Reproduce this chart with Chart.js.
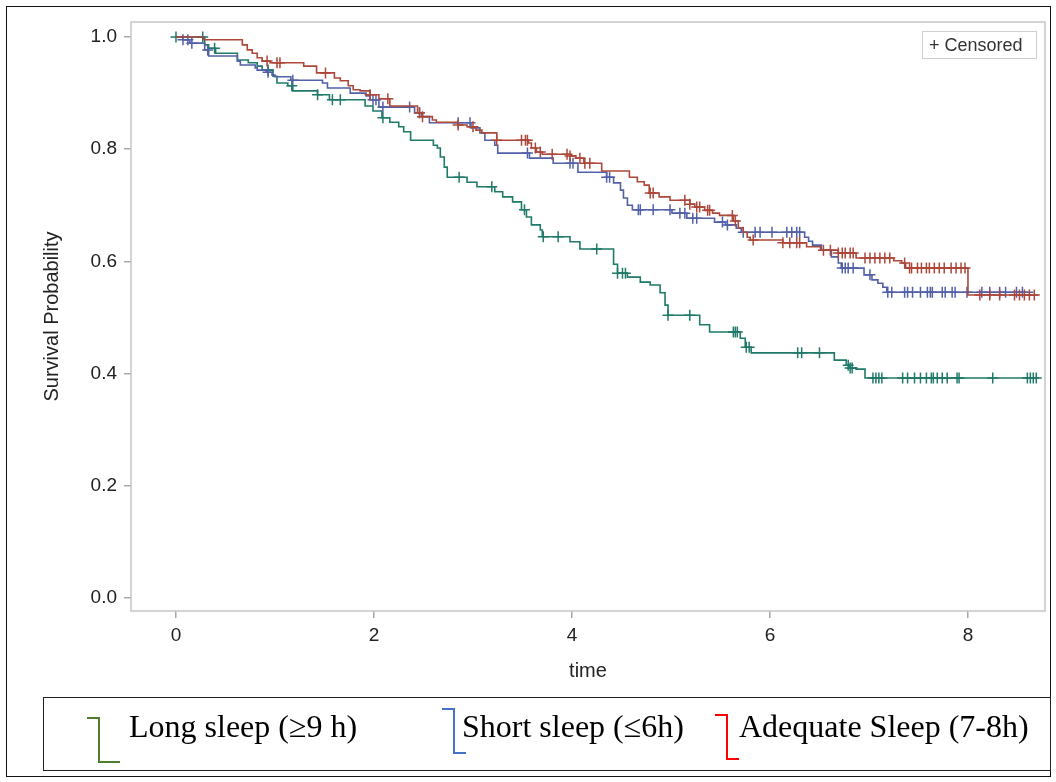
<!DOCTYPE html>
<html>
<head>
<meta charset="utf-8">
<script src="https://cdn.jsdelivr.net/npm/chart.js@4.4.0/dist/chart.umd.min.js"></script>
<style>
  body { margin: 0; background: #fff; width: 1056px; height: 782px; position: relative; overflow: hidden; }
  #frame { position: absolute; left: 6px; top: 6px; width: 1045px; height: 771px; border: 1.5px solid #111; box-sizing: border-box; }
  #wrap { position: absolute; left: 0; top: 0; width: 1056px; height: 700px; }
  #censorKey { position: absolute; left: 922px; top: 31px; width: 115px; height: 28px; box-sizing: border-box;
    border: 1px solid #cfcfcf; font: 18px "Liberation Sans", Arial, sans-serif; color: #333; line-height: 26px; padding-left: 6px; white-space: nowrap; }
  #legend { position: absolute; left: 43px; top: 697px; width: 1008px; height: 74px; box-sizing: border-box; border: 1.5px solid #222; }
  .item { position: absolute; top: 12px; font: 32px "Liberation Serif", "Times New Roman", serif; color: #000; line-height: 32px; white-space: nowrap; }
  .ic { position: absolute; }
</style>
</head>
<body>
<div id="frame"></div>
<div id="wrap"><canvas id="km" width="1056" height="700"></canvas></div>
<div id="censorKey">+ Censored</div>
<div id="legend"></div>
<script>
// Long sleep (>=9 h)
const longTime = [0, 0.29, 0.33, 0.40, 0.62, 0.73, 0.82, 0.87, 0.98, 1.02, 1.13, 1.18, 1.43, 1.55, 1.91,
  1.99, 2.08, 2.16, 2.25, 2.30, 2.37, 2.60, 2.64, 2.67, 2.71, 2.74, 2.94, 3.04, 3.22, 3.30,
  3.40, 3.49, 3.54, 3.59, 3.68, 3.70, 3.98, 4.08, 4.42, 4.46, 4.56, 4.69, 4.79, 4.89, 4.94,
  4.97, 5.29, 5.39, 5.70, 5.75, 5.81, 6.65, 6.77, 6.80, 6.87, 6.96, 8.70];
const longSurv = [1, 0.986, 0.980, 0.971, 0.959, 0.954, 0.948, 0.941, 0.930, 0.918, 0.913, 0.904, 0.897, 0.888, 0.877,
  0.868, 0.856, 0.848, 0.840, 0.831, 0.816, 0.807, 0.802, 0.786, 0.768, 0.750, 0.741, 0.733, 0.724, 0.715,
  0.706, 0.692, 0.679, 0.665, 0.656, 0.644, 0.635, 0.622, 0.595, 0.579, 0.572, 0.563, 0.558, 0.544, 0.522,
  0.504, 0.487, 0.474, 0.463, 0.447, 0.437, 0.424, 0.415, 0.410, 0.408, 0.392, 0.392];
const longCensor = [0.0, 0.27, 0.39, 0.93, 1.17, 1.43, 1.58, 1.66, 2.09, 2.86, 3.19, 3.52, 3.71, 3.86, 4.25,
  4.46, 4.51, 4.54, 4.97, 5.19, 5.63, 5.65, 5.67, 5.76, 5.79, 6.28, 6.32, 6.50, 6.79, 6.81, 6.83,
  7.04, 7.07, 7.10, 7.13, 7.34, 7.39, 7.46, 7.52, 7.58, 7.63, 7.65, 7.69, 7.74, 7.79, 7.89, 7.91,
  8.25, 8.60, 8.63, 8.66, 8.69];

// Short sleep (<=6h)
const shortTime = [0, 0.07, 0.14, 0.29, 0.33, 0.62, 0.65, 0.80, 0.82, 0.91, 0.97, 1.00, 1.16, 1.48, 1.53,
  1.76, 1.92, 1.96, 2.05, 2.41, 2.48, 2.56, 2.98, 3.07, 3.12, 3.22, 3.25, 3.57, 3.81, 4.06,
  4.35, 4.42, 4.49, 4.52, 4.56, 4.61, 5.01, 5.16, 5.44, 5.55, 5.66, 5.71, 6.35, 6.39, 6.43,
  6.52, 6.62, 6.69, 6.72, 6.95, 7.03, 7.09, 7.14, 7.18, 8.66];
const shortSurv = [1, 0.995, 0.989, 0.977, 0.966, 0.957, 0.950, 0.945, 0.941, 0.937, 0.932, 0.929, 0.923, 0.918, 0.909,
  0.900, 0.895, 0.888, 0.875, 0.865, 0.858, 0.847, 0.838, 0.829, 0.816, 0.807, 0.793, 0.784, 0.775, 0.759,
  0.750, 0.740, 0.727, 0.713, 0.700, 0.692, 0.686, 0.677, 0.670, 0.665, 0.659, 0.652, 0.643, 0.636, 0.629,
  0.620, 0.608, 0.597, 0.588, 0.576, 0.567, 0.561, 0.554, 0.545, 0.545];
const shortCensor = [0.07, 0.12, 0.16, 0.32, 0.93, 1.18, 1.99, 2.02, 2.09, 2.36, 2.46, 2.85, 2.97, 3.55, 3.98,
  4.01, 4.35, 4.38, 4.67, 4.69, 4.82, 4.99, 5.09, 5.14, 5.22, 5.26, 5.52, 5.57, 5.73, 5.85, 5.90,
  6.02, 6.17, 6.22, 6.27, 6.30, 6.73, 6.76, 6.79, 6.84, 7.01, 7.19, 7.23, 7.36, 7.39, 7.44, 7.52,
  7.59, 7.62, 7.64, 7.74, 7.77, 7.84, 7.87, 7.99, 8.14, 8.22, 8.32, 8.38, 8.49, 8.55];

// Adequate sleep (7-8h)
const adqTime = [0, 0.28, 0.67, 0.72, 0.77, 0.82, 0.87, 0.95, 1.29, 1.42, 1.60, 1.66, 1.74, 1.79, 1.86,
  1.96, 2.05, 2.16, 2.44, 2.49, 2.59, 2.63, 2.85, 2.94, 3.03, 3.09, 3.24, 3.56, 3.59, 3.64,
  3.70, 3.98, 4.04, 4.12, 4.30, 4.58, 4.66, 4.73, 4.78, 4.88, 4.99, 5.19, 5.24, 5.34, 5.42,
  5.49, 5.63, 5.68, 5.73, 5.77, 5.80, 6.13, 6.37, 6.51, 6.69, 6.87, 7.25, 7.33, 7.37, 8.00, 8.71];
const adqSurv = [1, 0.995, 0.986, 0.977, 0.971, 0.963, 0.957, 0.954, 0.948, 0.936, 0.927, 0.922, 0.913, 0.906, 0.904,
  0.897, 0.890, 0.877, 0.865, 0.858, 0.852, 0.848, 0.843, 0.840, 0.834, 0.829, 0.816, 0.811, 0.802, 0.795,
  0.791, 0.788, 0.784, 0.775, 0.761, 0.750, 0.742, 0.736, 0.722, 0.715, 0.709, 0.702, 0.697, 0.691, 0.686,
  0.682, 0.672, 0.660, 0.652, 0.643, 0.638, 0.633, 0.626, 0.620, 0.615, 0.606, 0.601, 0.597, 0.588, 0.540, 0.540];
const adqCensor = [0.92, 1.02, 1.05, 1.51, 1.96, 2.14, 2.46, 2.49, 2.85, 3.00, 3.24, 3.49, 3.53, 3.55, 3.63,
  3.68, 3.80, 3.95, 3.98, 4.08, 4.13, 4.18, 4.79, 4.82, 5.14, 5.19, 5.26, 5.29, 5.37, 5.39, 5.62,
  5.65, 5.83, 6.13, 6.20, 6.27, 6.30, 6.54, 6.61, 6.69, 6.73, 6.76, 6.81, 6.84, 6.96, 7.01, 7.06,
  7.11, 7.16, 7.21, 7.36, 7.41, 7.43, 7.49, 7.53, 7.58, 7.61, 7.66, 7.71, 7.76, 7.83, 7.88, 7.93,
  7.97, 8.12, 8.22, 8.32, 8.47, 8.52, 8.57, 8.62, 8.67];

const xTicks = [0, 2, 4, 6, 8];
const yTicks = [0.0, 0.2, 0.4, 0.6, 0.8, 1.0];
const legendNames = ["Long sleep (\u22659 h)", "Short sleep (\u22646h)", "Adequate Sleep (7-8h)"];

const green = "#1f7a69", blue = "#5260a8", red = "#ad473a";

// value of the step curve at time t (for placing the censor marks on it)
function survAt(times, surv, t) {
  let s = surv[0];
  for (let i = 0; i < times.length; i++) {
    if (times[i] <= t + 1e-9) s = surv[i]; else break;
  }
  return s;
}

function curve(times, surv, color) {
  return {
    type: "line",
    data: times.map((t, i) => ({ x: t, y: surv[i] })),
    borderColor: color,
    borderWidth: 1.6,
    stepped: "before",
    pointRadius: 0,
    fill: false
  };
}

function marks(censor, times, surv, color) {
  return {
    type: "scatter",
    data: censor.map(t => ({ x: t, y: survAt(times, surv, t) })),
    pointStyle: "cross",
    pointRadius: 5.5,
    borderColor: color,
    borderWidth: 1.5,
    showLine: false
  };
}

const plotBox = {
  id: "plotBox",
  beforeDatasetsDraw(chart) {
    const { ctx, chartArea: a } = chart;
    ctx.save();
    ctx.strokeStyle = "#c6c6c6";
    ctx.lineWidth = 1.5;
    ctx.strokeRect(a.left, a.top, a.right - a.left, a.bottom - a.top);
    ctx.restore();
  }
};

new Chart(document.getElementById("km").getContext("2d"), {
  data: {
    datasets: [
      marks(adqCensor, adqTime, adqSurv, red),
      curve(adqTime, adqSurv, red),
      marks(shortCensor, shortTime, shortSurv, blue),
      curve(shortTime, shortSurv, blue),
      marks(longCensor, longTime, longSurv, green),
      curve(longTime, longSurv, green)
    ]
  },
  options: {
    responsive: false,
    animation: false,
    devicePixelRatio: 1,
    layout: { padding: { left: 0, right: 11, top: 22, bottom: 0 } },
    plugins: { legend: { display: false }, tooltip: { enabled: false } },
    scales: {
      x: {
        type: "linear",
        min: -0.4545,
        max: 8.778,
        afterBuildTicks: s => { s.ticks = xTicks.map(v => ({ value: v })); },
        afterFit: s => { s.height = 89; },
        ticks: { color: "#222", font: { family: "Liberation Sans", size: 19 }, padding: 6, callback: v => String(v) },
        grid: { drawOnChartArea: false, tickLength: 7, color: "#a8a8a8", lineWidth: 1.5 },
        border: { display: false },
        title: { display: true, text: "time", color: "#222", font: { family: "Liberation Sans", size: 20 }, padding: { top: 0, bottom: 17 } }
      },
      y: {
        type: "linear",
        min: -0.0232,
        max: 1.0267,
        afterBuildTicks: s => { s.ticks = yTicks.map(v => ({ value: v })); },
        afterFit: s => { s.width = 131; },
        ticks: { color: "#222", font: { family: "Liberation Sans", size: 19 }, padding: 7, callback: v => v.toFixed(1) },
        grid: { drawOnChartArea: false, tickLength: 7, color: "#a8a8a8", lineWidth: 1.5 },
        border: { display: false },
        title: { display: true, text: "Survival Probability", color: "#222", font: { family: "Liberation Sans", size: 20 }, padding: { top: 40, bottom: 0 } }
      }
    }
  },
  plugins: [plotBox]
});

// bottom key with the little step icons
const legendColors = ["#4f7f2e", "#4472c4", "#ff0000"];
const iconX = [43, 398, 671];      // left of top tick, relative to legend box
const iconTop = [19, 10, 16];
const textX = [85, 418, 695];
const legend = document.getElementById("legend");
legendNames.forEach((name, i) => {
  const c = legendColors[i];
  const a = document.createElement("div");
  a.className = "ic";
  a.style.cssText = `left:${iconX[i]}px;top:${iconTop[i]}px;width:11px;height:44px;border-top:2.5px solid ${c};border-right:2.5px solid ${c};`;
  const b = document.createElement("div");
  b.className = "ic";
  b.style.cssText = `left:${iconX[i] + 11}px;top:${iconTop[i] + 44}px;width:${i === 0 ? 22 : 13}px;border-top:2.5px solid ${c};`;
  const t = document.createElement("div");
  t.className = "item";
  t.style.left = textX[i] + "px";
  t.textContent = name;
  legend.append(a, b, t);
});
</script>
</body>
</html>
